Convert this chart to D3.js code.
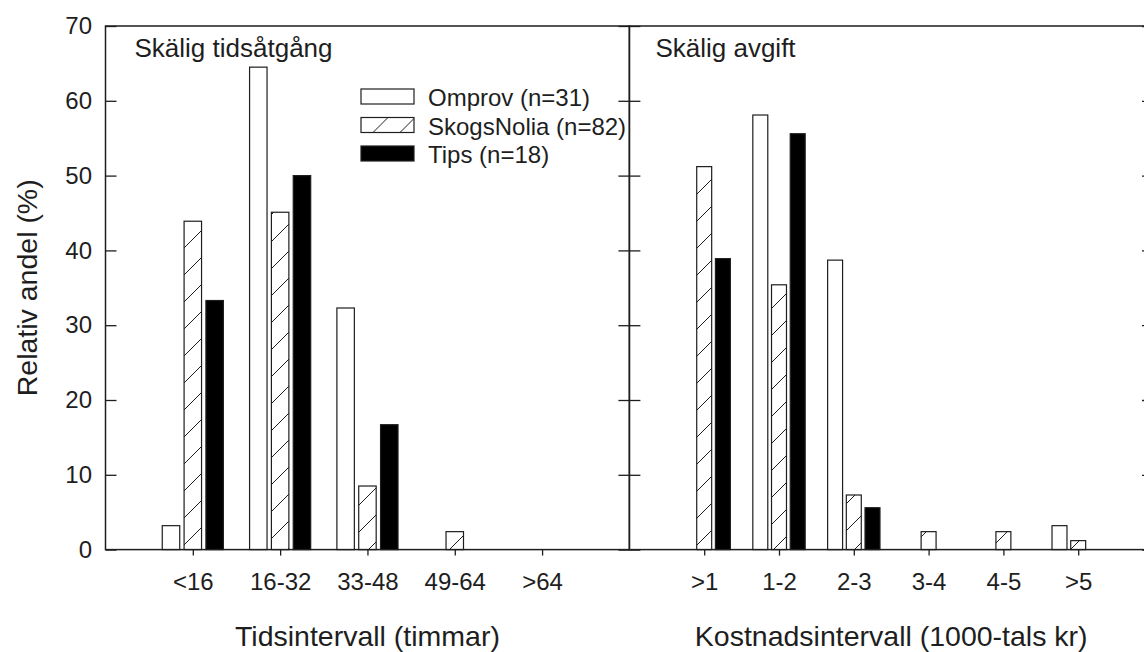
<!DOCTYPE html>
<html>
<head>
<meta charset="utf-8">
<script src="https://cdn.jsdelivr.net/npm/d3@7"></script>
<style>
    body { margin: 0; background: #fff; }
    svg text { font-family: "Liberation Sans", Arial, sans-serif; fill: #1e1e1e; }
</style>
</head>
<body>
<svg id="canvas" width="1144" height="652"></svg>
<script>
// data (percent of respondents)
const seriesNames = ['Omprov (n=31)', 'SkogsNolia (n=82)', 'Tips (n=18)'];

const timeCats = ['<16', '16-32', '33-48', '49-64', '>64'];
const timeOmprov = [3.2, 64.5, 32.3, 0, 0];
const timeSkogs = [43.9, 45.1, 8.5, 2.4, 0];
const timeTips = [33.3, 50.0, 16.7, 0, 0];

const costCats = ['>1', '1-2', '2-3', '3-4', '4-5', '>5'];
const costOmprov = [0, 58.1, 38.7, 0, 0, 3.2];
const costSkogs = [51.2, 35.4, 7.3, 2.4, 2.4, 1.2];
const costTips = [38.9, 55.6, 5.6, 0, 0, 0];

const yTicks = [0, 10, 20, 30, 40, 50, 60, 70];

const canvas = d3.select('#canvas');
const ink = '#1e1e1e';

// hatch for SkogsNolia
const defs = canvas.append('defs');
defs.append('pattern')
    .attr('id', 'hatch')
    .attr('patternUnits', 'userSpaceOnUse')
    .attr('width', 27)
    .attr('height', 27)
    .call(p => p.append('rect').attr('width', 27).attr('height', 27).attr('fill', '#fff'))
    .append('path')
    .attr('d', 'M-1,1L1,-1M0,27L27,0M26,28L28,26')
    .attr('stroke', ink)
    .attr('stroke-width', 1);

const fills = ['#fff', 'url(#hatch)', '#000'];

const y = d3.scaleLinear().domain([0, 70]).range([549.6, 26]);
const xLeft = d3.scaleLinear().domain([0, 6]).range([105.5, 629.4]);
const xRight = d3.scaleLinear().domain([0, 7]).range([629.4, 1153]);

function drawPanel(x, cats, series, title, xTitle) {
    let g = canvas.append('g');

    // bars
    let rows = [];
    series.forEach((vals, s) => {
        vals.forEach((v, i) => {
            if (v > 0) rows.push({s: s, i: i, v: v});
        });
    });
    let bw = x(0.2) - x(0);
    g.append('g').selectAll('rect')
        .data(rows)
        .enter().append('rect')
        .attr('x', d => x(i1(d) + (d.s - 1) * 0.25) - bw / 2)
        .attr('y', d => y(d.v))
        .attr('width', bw)
        .attr('height', d => y(0) - y(d.v))
        .attr('fill', d => fills[d.s])
        .attr('stroke', ink)
        .attr('stroke-width', 1.2);

    // x axis ticks + labels
    let xa = g.append('g')
        .attr('transform', `translate(0,${y(0)})`)
        .call(d3.axisBottom(x)
            .tickValues(cats.map((c, i) => i + 1))
            .tickFormat(i => cats[i - 1])
            .tickSize(6)
            .tickPadding(17.4));
    xa.select('.domain').remove();
    xa.selectAll('line').attr('stroke', ink).attr('stroke-width', 1.3);
    xa.selectAll('text').attr('font-size', 24).attr('fill', ink);

    // inward ticks on both panel sides
    let [x0, x1] = x.range();
    g.append('g').attr('transform', `translate(${x0},0)`)
        .call(d3.axisLeft(y).tickValues(yTicks).tickSizeInner(-11).tickSizeOuter(0).tickFormat(''))
        .call(a => a.select('.domain').remove())
        .call(a => a.selectAll('line').attr('stroke', ink).attr('stroke-width', 1.3));
    g.append('g').attr('transform', `translate(${x1},0)`)
        .call(d3.axisRight(y).tickValues(yTicks).tickSizeInner(-11).tickSizeOuter(0).tickFormat(''))
        .call(a => a.select('.domain').remove())
        .call(a => a.selectAll('line').attr('stroke', ink).attr('stroke-width', 1.3));

    // frame
    g.append('rect')
        .attr('x', x0).attr('y', y(70))
        .attr('width', x1 - x0).attr('height', y(0) - y(70))
        .attr('fill', 'none')
        .attr('stroke', ink)
        .attr('stroke-width', 1.5);

    g.append('text')
        .attr('x', x0 + (x === xLeft ? 29 : 26))
        .attr('y', 57)
        .attr('font-size', 26)
        .text(title);

    g.append('text')
        .attr('x', (x0 + x1) / 2)
        .attr('y', 646)
        .attr('text-anchor', 'middle')
        .attr('font-size', 28.5)
        .text(xTitle);
}

function i1(d) { return d.i + 1; }

drawPanel(xLeft, timeCats, [timeOmprov, timeSkogs, timeTips], 'Skälig tidsåtgång', 'Tidsintervall (timmar)');
drawPanel(xRight, costCats, [costOmprov, costSkogs, costTips], 'Skälig avgift', 'Kostnadsintervall (1000-tals kr)');

// y labels on the left only
let ya = canvas.append('g')
    .attr('transform', `translate(${xLeft(0)},0)`)
    .call(d3.axisLeft(y).tickValues(yTicks).tickSize(0).tickPadding(13.5));
ya.select('.domain').remove();
ya.selectAll('text').attr('font-size', 24).attr('fill', ink);

canvas.append('text')
    .attr('transform', `translate(27,${(y(0) + y(70)) / 2}) rotate(-90)`)
    .attr('text-anchor', 'middle')
    .attr('dominant-baseline', 'central')
    .attr('font-size', 28.5)
    .text('Relativ andel (%)');

// legend
let leg = canvas.append('g');
let lrows = leg.selectAll('g')
    .data(seriesNames)
    .enter().append('g')
    .attr('transform', (d, i) => `translate(361,${89 + i * 28.5})`);
lrows.append('rect')
    .attr('width', 53)
    .attr('height', 15)
    .attr('fill', (d, i) => fills[i])
    .attr('stroke', ink)
    .attr('stroke-width', 1.2);
lrows.append('text')
    .attr('x', 67)
    .attr('y', 8.5)
    .attr('dominant-baseline', 'central')
    .attr('font-size', 24)
    .text(d => d);
</script>
</body>
</html>
